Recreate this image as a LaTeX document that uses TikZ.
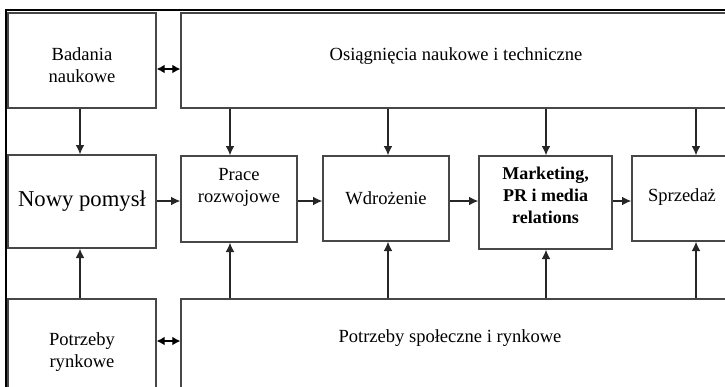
\documentclass[tikz,border=0pt]{standalone}
\usepackage{fontspec}
\setmainfont{Liberation Serif}
\usetikzlibrary{arrows.meta}
\begin{document}
\begin{tikzpicture}[x=0.75pt,y=-0.75pt,
  box/.style={draw=black!72, line width=1pt, inner sep=0pt},
  txt/.style={align=center, inner sep=0pt, font=\fontsize{13.9}{16.5}\selectfont},
  arr/.style={-{Latex[length=7pt,width=6.5pt]}, line width=0.85pt, draw=black!85},
  dbl/.style={{Latex[length=6pt,width=6.5pt]}-{Latex[length=6pt,width=6.5pt]}, line width=0.85pt}]
\useasboundingbox (0,0) rectangle (725,386);
\clip (0,0) rectangle (725,386);

% outer frame
\draw[line width=2pt] (5,10) -- (730,10);
\draw[line width=1.7pt] (6,9) -- (6,390);

% boxes (sizes in pixels * 0.75pt)
\node[box, minimum width=111pt, minimum height=71.25pt] (bad) at (82,60.5) {};
\node[box, minimum width=434.25pt, minimum height=71.25pt] (osi) at (470.5,60.5) {};
\node[box, minimum width=111pt, minimum height=69.75pt] (nowy) at (82,201.5) {};
\node[box, minimum width=87pt, minimum height=64.5pt] (prace) at (239,199) {};
\node[box, minimum width=94.5pt, minimum height=63.75pt] (wdr) at (386,198.5) {};
\node[box, minimum width=99.75pt, minimum height=69.75pt] (mkt) at (545.5,202.5) {};
\node[box, minimum width=96pt, minimum height=63.75pt] (spr) at (696,198.5) {};
\node[box, minimum width=111pt, minimum height=90.75pt] (ryn) at (82,359.5) {};
\node[box, minimum width=434.25pt, minimum height=90.75pt] (spo) at (470.5,359.5) {};

% texts
\node[txt] (tbad) at (82,65) {Badania\\naukowe};
\node[txt] (tosi) at (456,56) {Osiągnięcia naukowe i techniczne};
\node[txt, font=\fontsize{17}{20}\selectfont] (tnowy) at (82,201.5) {Nowy pomysł};
\node[txt] (tprace) at (239,187) {Prace\\rozwojowe};
\node[txt] (twdr) at (386,198) {Wdrożenie};
\node[txt, font=\fontsize{13.5}{16.5}\selectfont\bfseries] (tmkt) at (545.5,195) {Marketing,\\PR i media\\relations};
\node[txt] (tspr) at (682,197) {Sprzedaż};
\node[txt] (tryn) at (82,352) {Potrzeby\\rynkowe};
\node[txt] (tspo) at (450,338) {Potrzeby społeczne i rynkowe};

% connector guides
\coordinate (x0) at (80,0);
\coordinate (x1) at (230,0);
\coordinate (x2) at (388,0);
\coordinate (x3) at (546,0);
\coordinate (x4) at (696,0);
\coordinate (ymid) at (0,201);
\coordinate (ytop) at (0,69);
\coordinate (ybot) at (0,341);

% vertical arrows
\draw[arr] (x0 |- bad.south) -- (x0 |- nowy.north);
\draw[arr] (x0 |- ryn.north) -- (x0 |- nowy.south);
\foreach \c/\b in {x1/prace, x2/wdr, x3/mkt, x4/spr} {
  \draw[arr] (\c |- osi.south) -- (\c |- \b.north);
  \draw[arr] (\c |- spo.north) -- (\c |- \b.south);
}

% horizontal arrows
\draw[arr] (nowy.east |- ymid) -- (prace.west |- ymid);
\draw[arr] (prace.east |- ymid) -- (wdr.west |- ymid);
\draw[arr] (wdr.east |- ymid) -- (mkt.west |- ymid);
\draw[arr] (mkt.east |- ymid) -- (spr.west |- ymid);

% two-way arrows
\draw[dbl] (bad.east |- ytop) -- (osi.west |- ytop);
\draw[dbl] (ryn.east |- ybot) -- (spo.west |- ybot);
\end{tikzpicture}
\end{document}
